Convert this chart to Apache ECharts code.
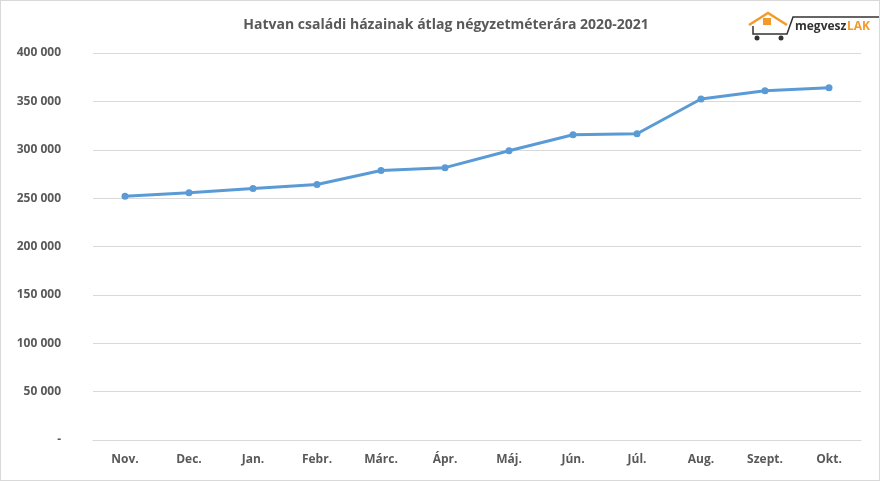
<!DOCTYPE html><html><head><meta charset="utf-8"><script src="https://cdn.jsdelivr.net/npm/echarts@6/dist/echarts.min.js"></script>
<style>html,body{margin:0;padding:0;background:#fff}#c{width:880px;height:481px;border:1px solid #d9d9d9;box-sizing:border-box}</style></head><body><div id="c"></div><script>
const categories=['Nov.','Dec.','Jan.','Febr.','Márc.','Ápr.','Máj.','Jún.','Júl.','Aug.','Szept.','Okt.'];
const values=[252000,255500,260000,264000,278500,281500,299000,315500,316500,352500,361000,364000];
const chart=echarts.init(document.getElementById('c'));
chart.setOption({
 title:{text:'Hatvan családi házainak átlag négyzetméterára 2020-2021',left:440,top:12,textAlign:'center',textStyle:{fontFamily:'Open Sans',fontSize:14,fontWeight:'bold',color:'#595959'}},
 graphic:[
  {type:'polyline',shape:{points:[[748,24],[767,12],[786,24]]},style:{stroke:'#f39a2b',lineWidth:2.5,fill:null}},
  {type:'rect',shape:{x:762,y:17,width:8,height:7},style:{fill:'#f39a2b'}},
  {type:'polyline',shape:{points:[[752,25],[752,33],[786,33],[792,16],[880,16]]},style:{stroke:'#333',lineWidth:1.5,fill:null}},
  {type:'circle',shape:{cx:756,cy:37,r:2.5},style:{fill:'#333'}},
  {type:'circle',shape:{cx:780,cy:37,r:2.5},style:{fill:'#333'}},
  {type:'text',left:794,top:20,style:{text:'megvesz',font:'bold 12px "Open Sans"',fill:'#333'}},
  {type:'text',left:846,top:20,style:{text:'LAK',font:'bold 12px "Open Sans"',fill:'#f39a2b'}}
 ],
 grid:{left:92,right:18,top:52,bottom:40},
 xAxis:{type:'category',data:categories,boundaryGap:true,axisLine:{lineStyle:{color:'#d9d9d9'}},axisTick:{show:false},axisLabel:{color:'#595959',fontWeight:'bold',fontSize:12,fontFamily:'Open Sans',margin:14}},
 yAxis:{type:'value',min:0,max:400000,interval:50000,axisLine:{show:false},axisTick:{show:false},splitLine:{lineStyle:{color:'#d9d9d9'}},axisLabel:{color:'#595959',fontWeight:'bold',fontSize:12,fontFamily:'Open Sans',margin:32,formatter:v=>v===0?'-':String(v).replace(/\B(?=(\d{3})+(?!\d))/g,' ')}},
 series:[{type:'line',data:values,symbol:'circle',symbolSize:7,lineStyle:{color:'#5b9bd5',width:3},itemStyle:{color:'#5b9bd5'}}]
});
</script></body></html>
